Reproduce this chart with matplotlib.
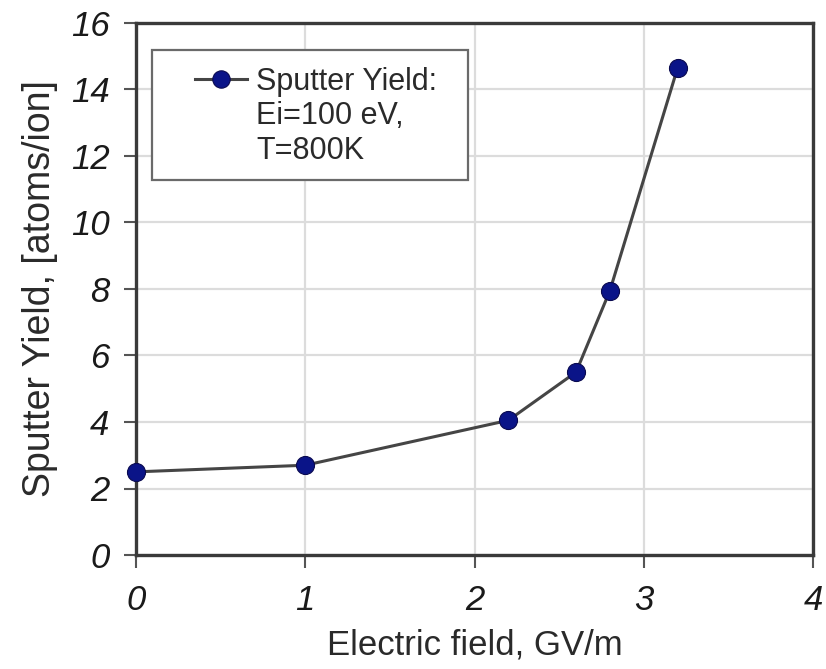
import matplotlib
matplotlib.use("Agg")
import matplotlib.pyplot as plt
from matplotlib.lines import Line2D
from matplotlib.patches import Rectangle

# Data
field_gv_m = [0.0, 1.0, 2.2, 2.6, 2.8, 3.2]
sputter_yield = [2.5, 2.7, 4.05, 5.5, 7.95, 14.65]
x_ticks = [0, 1, 2, 3, 4]
y_ticks = [0, 2, 4, 6, 8, 10, 12, 14, 16]
legend_lines = ["Sputter Yield:", "Ei=100 eV,", "T=800K"]
x_label = "Electric field, GV/m"
y_label = "Sputter Yield, [atoms/ion]"

plt.rcParams['font.family'] = ['Liberation Sans', 'DejaVu Sans']

W, H = 826, 669
fig = plt.figure(figsize=(W / 100, H / 100), dpi=100)
ax = fig.add_axes([136 / W, 1 - 555 / H, (813 - 136) / W, (555 - 23) / H])

line_col = '#454545'
mk_col = '#0a1488'
ax.plot(field_gv_m, sputter_yield, color=line_col, lw=2.2, marker='o',
        markersize=13, markerfacecolor=mk_col, markeredgecolor='#0a0a50',
        markeredgewidth=0.8, zorder=5, clip_on=False)

ax.set_xlim(0, 4)
ax.set_ylim(0, 16)
ax.set_xticks(x_ticks)
ax.set_yticks(y_ticks)
ax.set_xticklabels([str(v) for v in x_ticks], fontsize=25, style='italic', color='#1a1a1a')
ax.set_yticklabels([str(v) for v in y_ticks], fontsize=25, style='italic', color='#1a1a1a')
ax.tick_params(direction='out', length=9, width=1.5, color='#555555', pad=10)
ax.tick_params(axis='x', pad=12)

ax.grid(True, color='#dcdcdc', lw=1.6)
ax.set_axisbelow(True)
for s in ax.spines.values():
    s.set_color('#3a3a3a')
    s.set_linewidth(2.4)

ax.set_xlabel(x_label, fontsize=25, color='#2a2a2a', labelpad=8)
ax.set_ylabel(y_label, fontsize=27, color='#2a2a2a', labelpad=9)

# Legend frame
frame = Rectangle((152 / W, 1 - 180 / H), (468 - 152) / W, (180 - 50) / H,
                  transform=fig.transFigure, facecolor='white',
                  edgecolor='#6a6a6a', lw=1.6, zorder=10)
fig.patches.append(frame)

handles = [Line2D([], [], color=line_col, lw=2.2, marker='o', markersize=12.5,
                  markerfacecolor=mk_col, markeredgecolor='#0a0a50', markeredgewidth=0.8),
           Line2D([], [], color='none'),
           Line2D([], [], color='none')]
leg = fig.legend(handles, legend_lines, loc='upper left',
                 bbox_to_anchor=(195 / W, 1 - 67 / H), bbox_transform=fig.transFigure,
                 frameon=False, fontsize=22, handlelength=1.7, handletextpad=0.3,
                 labelspacing=0.14, borderpad=0, borderaxespad=0)
leg.set_zorder(11)
for t in leg.get_texts():
    t.set_color('#2a2a2a')

fig.savefig('out.png', dpi=100)
